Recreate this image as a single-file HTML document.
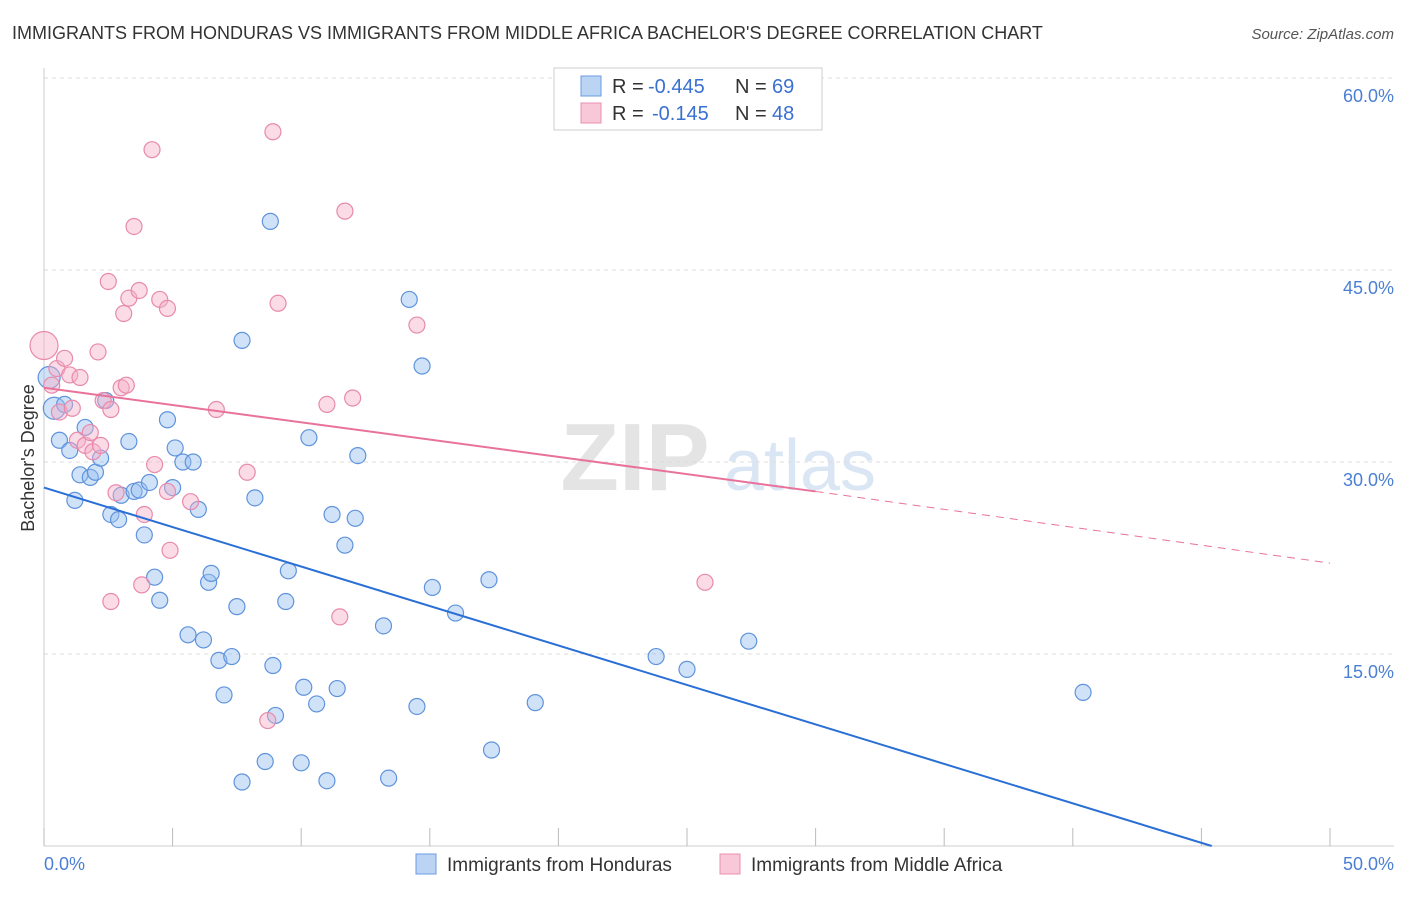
<!DOCTYPE html>
<html><head><meta charset="utf-8">
<style>
body{margin:0;background:#fff;font-family:"Liberation Sans",sans-serif;}
svg text{font-family:"Liberation Sans",sans-serif;}
</style></head>
<body>
<svg id="chart" width="1406" height="892" xmlns="http://www.w3.org/2000/svg">
<text x="12" y="39" font-size="18" fill="#333">IMMIGRANTS FROM HONDURAS VS IMMIGRANTS FROM MIDDLE AFRICA BACHELOR'S DEGREE CORRELATION CHART</text>
<text x="1394" y="39" font-size="15" fill="#555" font-style="italic" text-anchor="end">Source: ZipAtlas.com</text>
<text x="635" y="490" font-size="96" fill="#e4e4e4" font-weight="bold" text-anchor="middle">ZIP</text>
<text x="800" y="490" font-size="72" fill="#dbe6f4" text-anchor="middle">atlas</text>
<g id="grid"></g>
<g id="axes"></g>
<g id="points"></g>
<g id="lines"></g>
<text x="34" y="458" font-size="18" fill="#333" text-anchor="middle" transform="rotate(-90 34 458)">Bachelor's Degree</text>
<text x="44" y="870" font-size="18" fill="#4a7fd4">0.0%</text>
<text x="1394" y="870" font-size="18" fill="#4a7fd4" text-anchor="end">50.0%</text>
<g>
<rect x="554" y="68" width="268" height="62" fill="#fff" stroke="#ccc"/>
<rect x="581" y="76" width="20" height="20" fill="#bcd4f4" stroke="#6a9be0"/>
<rect x="581" y="103" width="20" height="20" fill="#f9c8d8" stroke="#e890b0"/>
<text x="612" y="93" font-size="20" fill="#333">R =</text>
<text x="648" y="93" font-size="20" fill="#3a70d0">-0.445</text>
<text x="735" y="93" font-size="20" fill="#333">N =</text>
<text x="772" y="93" font-size="20" fill="#3a70d0">69</text>
<text x="612" y="120" font-size="20" fill="#333">R =</text>
<text x="652" y="120" font-size="20" fill="#3a70d0">-0.145</text>
<text x="735" y="120" font-size="20" fill="#333">N =</text>
<text x="772" y="120" font-size="20" fill="#3a70d0">48</text>
</g>
<g>
<rect x="416" y="854" width="20" height="20" fill="#bcd4f4" stroke="#6a9be0"/>
<text x="447" y="871" font-size="19" fill="#333">Immigrants from Honduras</text>
<rect x="720" y="854" width="20" height="20" fill="#f9c8d8" stroke="#e890b0"/>
<text x="751" y="871" font-size="19" fill="#333">Immigrants from Middle Africa</text>
</g>
</svg>
<script>
const yTicks=[15,30,45,60];
const yTickLabels=["15.0%","30.0%","45.0%","60.0%"];
const xTicks=[0,5,10,15,20,25,30,35,40,45,50];
const blueX=[0.4,0.2,0.6,0.8,1.0,1.2,1.4,1.6,1.8,2.0,2.2,2.4,2.6,2.9,3.0,3.3,3.5,3.7,3.9,4.1,4.3,4.5,4.8,5.0,5.1,5.4,5.6,5.8,6.0,6.2,6.4,6.5,6.8,7.0,7.3,7.5,7.7,7.7,8.2,8.6,8.8,8.9,9.0,9.4,9.5,10.0,10.1,10.3,10.6,11.0,11.2,11.4,11.7,12.1,12.2,13.2,13.4,14.2,14.5,14.7,15.1,16.0,17.3,17.4,19.1,23.8,25.0,27.4,40.4];
const blueY=[34.2,36.6,31.7,34.5,30.9,27.0,29.0,32.7,28.8,29.2,30.3,34.8,25.9,25.5,27.4,31.6,27.7,27.8,24.3,28.4,21.0,19.2,33.3,28.0,31.1,30.0,16.5,30.0,26.3,16.1,20.6,21.3,14.5,11.8,14.8,18.7,39.5,5.0,27.2,6.6,48.8,14.1,10.2,19.1,21.5,6.5,12.4,31.9,11.1,5.1,25.9,12.3,23.5,25.6,30.5,17.2,5.3,42.7,10.9,37.5,20.2,18.2,20.8,7.5,11.2,14.8,13.8,16.0,12.0];
const pinkX=[0,0.3,0.5,0.6,0.8,1.0,1.1,1.3,1.4,1.6,1.8,1.9,2.1,2.2,2.3,2.5,2.6,2.6,2.8,3.0,3.1,3.2,3.3,3.5,3.7,3.9,3.8,4.2,4.3,4.5,4.8,4.8,4.9,5.7,6.7,7.9,8.7,8.9,9.1,11.0,11.5,11.7,12.0,14.5,25.7];
const pinkY=[39.1,36.0,37.3,33.9,38.1,36.8,34.2,31.7,36.6,31.3,32.3,30.8,38.6,31.3,34.8,44.1,34.1,19.1,27.6,35.8,41.6,36.0,42.8,48.4,43.4,25.9,20.4,54.4,29.8,42.7,42.0,27.7,23.1,26.9,34.1,29.2,9.8,55.8,42.4,34.5,17.9,49.6,35.0,40.7,20.6];
const blueLine=[[0,28.0],[45.4,0]];
const pinkSolid=[[0,35.8],[30,27.7]];
const pinkDash=[[30,27.7],[50,22.1]];
const X=v=>44+v*25.72, Y=v=>846-v*12.8;
const NS="http://www.w3.org/2000/svg";
function mk(tag,attrs,parent){const e=document.createElementNS(NS,tag);for(const k in attrs)e.setAttribute(k,attrs[k]);document.getElementById(parent).appendChild(e);return e;}
yTicks.forEach((t,i)=>{
 const g=mk('line',{x1:44,x2:1394,y1:Y(t),y2:Y(t),stroke:'#ddd','stroke-dasharray':'4 4'},'grid');
 
 
 const l=mk('text',{x:1394,y:Y(t)+24,'font-size':18,fill:'#4a7fd4','text-anchor':'end'},'grid');
 l.textContent=yTickLabels[i];
 
 
});
const ax=mk('line',{x1:44,x2:44,y1:68,y2:846,stroke:'#ccc'},'axes');


const bx=mk('line',{x1:44,x2:1394,y1:846,y2:846,stroke:'#ccc'},'axes');


xTicks.forEach(t=>{
 const e=mk('line',{x1:X(t),x2:X(t),y1:828,y2:846,stroke:'#bbb'},'axes');
 
 
});
blueX.forEach((v,i)=>{
 const r=i<2?11:8;
 const c=mk('circle',{cx:X(v),cy:Y(blueY[i]),r:r,fill:'rgba(150,190,240,0.45)',stroke:'#5f93dc','stroke-width':1.2},'points');
 
 
});
pinkX.forEach((v,i)=>{
 const r=i==0?14:8;
 const c=mk('circle',{cx:X(v),cy:Y(pinkY[i]),r:r,fill:'rgba(245,175,200,0.45)',stroke:'#e88aac','stroke-width':1.2},'points');
 
 
});
const b=mk('line',{x1:X(blueLine[0][0]),y1:Y(blueLine[0][1]),x2:X(blueLine[1][0]),y2:Y(blueLine[1][1]),stroke:'#2a6fd6','stroke-width':2},'lines');


const p=mk('line',{x1:X(pinkSolid[0][0]),y1:Y(pinkSolid[0][1]),x2:X(pinkSolid[1][0]),y2:Y(pinkSolid[1][1]),stroke:'#e8729a','stroke-width':2},'lines');


const pd=mk('line',{x1:X(pinkDash[0][0]),y1:Y(pinkDash[0][1]),x2:X(pinkDash[1][0]),y2:Y(pinkDash[1][1]),stroke:'#e8729a','stroke-width':1,'stroke-dasharray':'8 6'},'lines');


</script>
</body></html>
